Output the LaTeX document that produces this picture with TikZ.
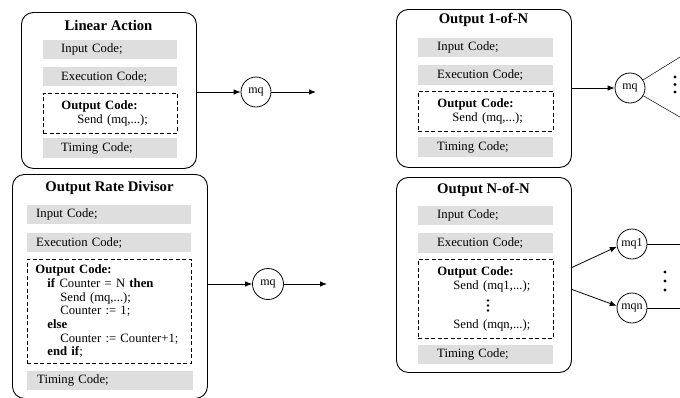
\documentclass[tikz,border=0pt]{standalone}
\usepackage{fontspec}
\setmainfont{Liberation Serif}
\usetikzlibrary{arrows.meta}

\begin{document}
\begin{tikzpicture}[x=1pt,y=-1pt,
  panel/.style={draw, line width=0.9pt, rounded corners=12pt, anchor=north west, inner sep=0pt},
  paneltitle/.style={font=\fontsize{14.7}{16}\selectfont\bfseries, inner sep=0pt},
  codebar/.style={fill=black!13, anchor=north west, minimum height=19pt, inner ysep=0pt,
    align=left, font=\fontsize{12.7}{13.7}\selectfont},
  outbox/.style={draw, dash pattern=on 4pt off 2.5pt, line width=0.8pt, anchor=north west,
    inner ysep=0pt, align=left, font=\fontsize{12.7}{13.7}\selectfont},
  queue/.style={draw, circle, line width=0.8pt, minimum size=30pt, inner sep=0pt,
    font=\fontsize{12}{12}\selectfont},
  flow/.style={line width=0.8pt, -{Latex[length=7pt,width=5.5pt]}},
  fan/.style={line width=0.5pt},
  bigdot/.style={circle, fill, inner sep=0pt, minimum size=3.2pt},
  smalldot/.style={circle, fill, inner sep=0pt, minimum size=2.6pt}
]
\useasboundingbox (0,0) rectangle (680,397);

% ---------- Linear Action ----------
\node[panel, minimum width=175pt, minimum height=156pt] (la) at (21,12) {};
\node[paneltitle] (laT) at (108.5,25) {Linear Action};
\node[codebar, text width=98pt, inner xsep=18pt] (laIn) at (43,40) {Input Code;};
\node[codebar, text width=98pt, inner xsep=18pt] (laEx) at (43,67) {Execution Code;};
\node[outbox, text width=98pt, inner xsep=18pt, minimum height=40pt] (laOut) at (43,93)
  {\textbf{Output Code:}\\\hspace*{16pt}Send (mq,...);};
\node[codebar, text width=98pt, inner xsep=18pt, minimum height=20pt] (laTm) at (43,138) {Timing Code;};

\node[queue] (mqA) at (256,92) {mq};
\coordinate (endA) at (316,92);
\draw[flow] (la.east |- mqA) -- (mqA);
\draw[flow] (mqA) -- (endA);

% ---------- Output Rate Divisor ----------
\node[panel, minimum width=195pt, minimum height=224pt] (ord) at (12,174) {};
\node[paneltitle] (ordT) at (109.5,188) {Output Rate Divisor};
\node[codebar, text width=146pt, inner xsep=9pt] (ordIn) at (27,205) {Input Code;};
\node[codebar, text width=146pt, inner xsep=9pt] (ordEx) at (27,233) {Execution Code;};
\node[outbox, text width=148pt, inner xsep=8pt, minimum height=104pt] (ordOut) at (27,259)
  {\textbf{Output Code:}\\
   \hspace*{12pt}\textbf{if} Counter = N \textbf{then}\\
   \hspace*{25pt}Send (mq,...);\\
   \hspace*{25pt}Counter := 1;\\
   \hspace*{12pt}\textbf{else}\\
   \hspace*{25pt}Counter~:=~Counter+1;\\
   \hspace*{12pt}\textbf{end if};};
\node[codebar, text width=146pt, inner xsep=10pt] (ordTm) at (27,371) {Timing Code;};

\node[queue, minimum size=31pt] (mqB) at (268,284) {mq};
\coordinate (endB) at (327,284);
\draw[flow] (ord.east |- mqB) -- (mqB);
\draw[flow] (mqB) -- (endB);

% ---------- Output 1-of-N ----------
\node[panel, minimum width=175pt, minimum height=158pt] (one) at (396,9) {};
\node[paneltitle] (oneT) at (483.5,20) {Output 1-of-N};
\node[codebar, text width=97pt, inner xsep=19pt] (oneIn) at (418,38) {Input Code;};
\node[codebar, text width=97pt, inner xsep=19pt, minimum height=20pt] (oneEx) at (418,65) {Execution Code;};
\node[outbox, text width=97pt, inner xsep=19pt, minimum height=40pt] (oneOut) at (418,91)
  {\textbf{Output Code:}\\\hspace*{15pt}Send (mq,...);};
\node[codebar, text width=97pt, inner xsep=19pt, minimum height=20pt] (oneTm) at (418,137) {Timing Code;};

\node[queue] (mqC) at (630,88) {mq};
\coordinate (fanUp) at (697,46.5);
\coordinate (fanDown) at (697,127);
\draw[flow] (one.east |- mqC) -- (mqC);
\draw[fan] (mqC) -- (fanUp);
\draw[fan] (mqC) -- (fanDown);
\node[bigdot] (oneD1) at (675,77) {};
\node[bigdot] (oneD2) at (675,84.5) {};
\node[bigdot] (oneD3) at (675,92) {};

% ---------- Output N-of-N ----------
\node[panel, minimum width=175pt, minimum height=195pt] (nn) at (396,177) {};
\node[paneltitle] (nnT) at (483.5,190) {Output N-of-N};
\node[codebar, text width=97pt, inner xsep=19pt] (nnIn) at (418,206) {Input Code;};
\node[codebar, text width=97pt, inner xsep=19pt, minimum height=20pt] (nnEx) at (418,233) {Execution Code;};
\node[outbox, text width=97pt, inner xsep=19pt, minimum height=79pt] (nnOut) at (418,259)
  {\textbf{Output Code:}\\
   \hspace*{16pt}Send (mq1,...);\\
   \mbox{}\\[12pt]
   \hspace*{16pt}Send (mqn,...);};
\node[smalldot] (nnD1) at (488,300.5) {};
\node[smalldot] (nnD2) at (488,305.5) {};
\node[smalldot] (nnD3) at (488,310.5) {};
\node[codebar, text width=97pt, inner xsep=19pt] (nnTm) at (418,345) {Timing Code;};

\node[queue] (mq1) at (632,244) {mq1};
\node[queue] (mqn) at (632,308) {mqn};
\coordinate (nnA) at ([yshift=7.5pt]nn.east);
\coordinate (nnB) at ([yshift=-14.5pt]nn.east);
\coordinate (end1) at (690,244);
\coordinate (endn) at (690,308);
\draw[flow] (nnA) -- (mq1.190);
\draw[flow] (nnB) -- (mqn.172);
\draw[fan] (mq1) -- (end1);
\draw[fan] (mqn) -- (endn);
\node[bigdot] (nnR1) at (665,272) {};
\node[bigdot] (nnR2) at (665,281) {};
\node[bigdot] (nnR3) at (665,290) {};
\end{tikzpicture}
\end{document}
